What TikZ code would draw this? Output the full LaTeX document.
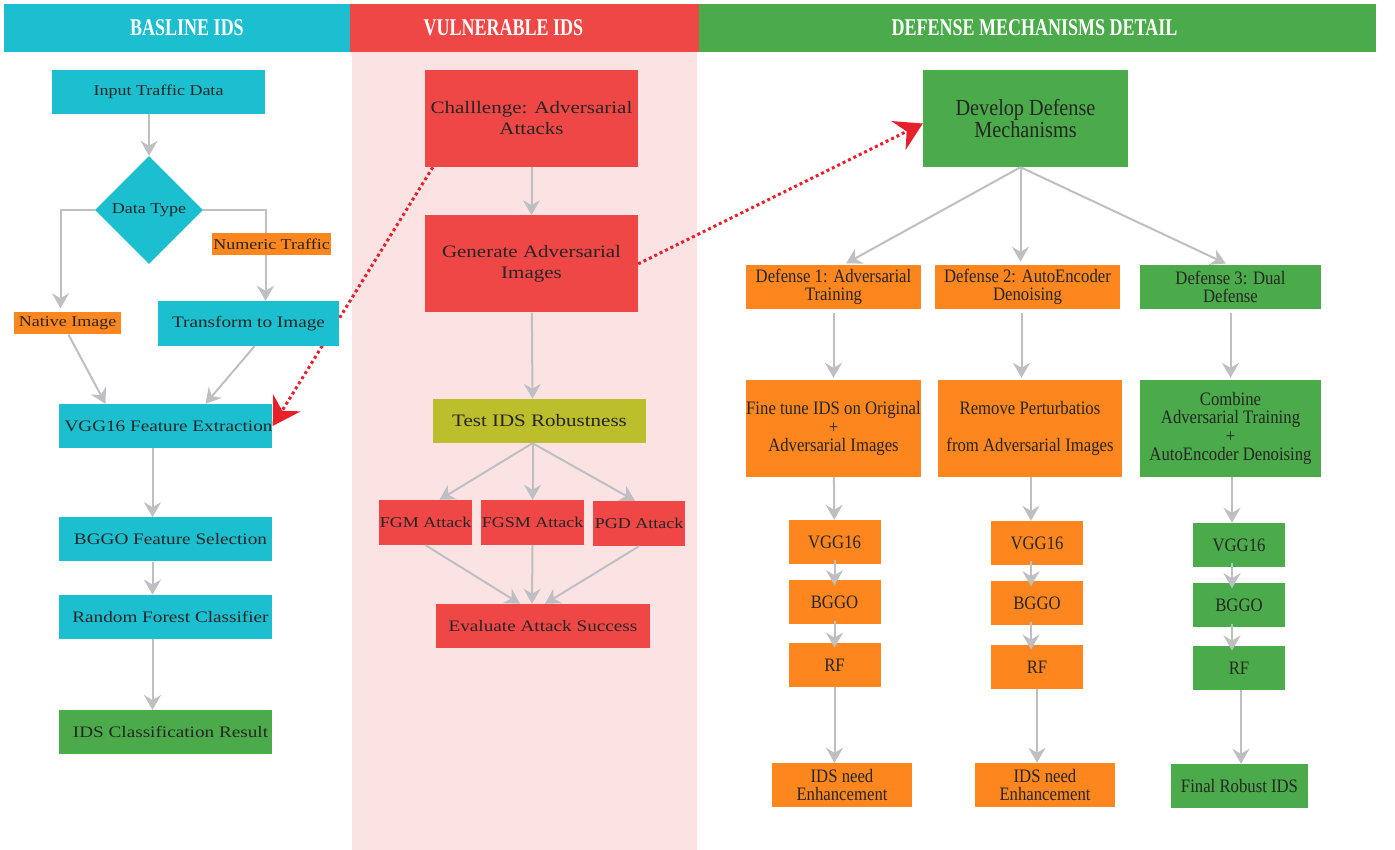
\documentclass[tikz,border=0pt]{standalone}
\usepackage{fontspec}
\setmainfont{Liberation Serif}
\newfontfamily\wideserif[FakeStretch=1.2]{Liberation Serif}
\newfontfamily\narrowserif[FakeStretch=0.88]{Liberation Serif}
\newfontfamily\bandserif[FakeStretch=0.75]{Liberation Serif}
\usetikzlibrary{positioning,shapes.geometric,arrows.meta}

\definecolor{tealfill}{HTML}{1BBFCF}
\definecolor{redfill}{HTML}{EF4646}
\definecolor{greenfill}{HTML}{4BAA4A}
\definecolor{orangefill}{HTML}{FD861F}
\definecolor{olivefill}{HTML}{BDBE2C}
\definecolor{pinkzone}{HTML}{FBE3E3}
\definecolor{flowgray}{HTML}{BEBFC3}
\definecolor{attackred}{HTML}{E8202A}
\definecolor{boxtext}{HTML}{262626}

\pgfdeclarelayer{background}
\pgfsetlayers{background,main}

\begin{document}
\begin{tikzpicture}[x=1pt,y=-1pt]
    \tikzset{box/.style={rectangle, inner sep=0pt, align=center, text=boxtext},
      band/.style={rectangle, inner sep=0pt, minimum height=48pt, text=white,
        font=\bandserif\bfseries\fontsize{24}{28}\selectfont},
      leftbox/.style={box, fill=tealfill, minimum width=213pt, minimum height=44pt,
        font=\wideserif\fontsize{16}{20}\selectfont},
      tagbox/.style={box, fill=orangefill, minimum height=22pt,
        font=\wideserif\fontsize{15}{18}\selectfont},
      midbox/.style={box, fill=redfill, minimum width=213pt, minimum height=44pt,
        font=\wideserif\fontsize{17.5}{21}\selectfont},
      attackbox/.style={box, fill=redfill, minimum height=45pt,
        font=\wideserif\fontsize{15}{18}\selectfont},
      rightbox/.style={box, minimum height=44pt,
        font=\narrowserif\fontsize{19}{18.5}\selectfont},
      stagebox/.style={rightbox, minimum width=92pt},
      flow/.style={draw=flowgray, line width=2pt, -{Stealth[length=15pt, width=17pt, inset=5pt]}},
      attack/.style={draw=attackred, line width=3pt, dash pattern=on 3pt off 3pt,
        -{Stealth[length=27pt, width=32pt, inset=9pt]}}
    }

    \useasboundingbox (0,0) rectangle (1395,850);

    % column headers
    \node[band, fill=tealfill, minimum width=346pt] (bandA) at (177,28) {\hspace*{20pt}BASLINE IDS};
    \node[band, fill=redfill, minimum width=349pt] (bandB) at (524.5,28) {VULNERABLE IDS\hspace*{42pt}};
    \node[band, fill=greenfill, minimum width=677pt] (bandC) at (1037.5,28) {DEFENSE MECHANISMS DETAIL\hspace*{6pt}};

    % baseline IDS
    \node[leftbox, font=\wideserif\fontsize{15}{18}\selectfont] (input) at (158.5,92) {Input Traffic Data};
    \node[diamond, fill=tealfill, inner sep=0pt, minimum width=108pt, minimum height=108pt,
      text=boxtext, font=\wideserif\fontsize{15}{18}\selectfont] (dtype) at (149,210) {Data Type};
    \node[tagbox, minimum width=107pt] (native) at (67.5,323.5) {Native Image};
    \node[leftbox, minimum width=181pt, minimum height=45pt] (transform) at (248.5,323.5) {Transform to Image};
    \node[leftbox] (vgg) at (165.5,426) {\hspace*{6pt}VGG16 Feature Extraction};
    \node[leftbox] (bggo) [below=69pt of vgg] {\hspace*{10pt}BGGO Feature Selection};
    \node[leftbox] (rf) [below=33pt of bggo] {\hspace*{10pt}Random Forest Classifier};
    \node[leftbox, fill=greenfill] (result) [below=71pt of rf] {\hspace*{10pt}IDS Classification Result};

    % vulnerable IDS
    \node[midbox, minimum height=97pt] (challenge) at (531.5,118.5) {Challlenge: Adversarial\\Attacks};
    \node[midbox, minimum height=97pt] (generate) [below=48pt of challenge] {Generate Adversarial\\Images};
    \node[midbox, fill=olivefill] (test) at (539.5,421) {Test IDS Robustness};
    \node[attackbox, minimum width=93pt] (fgm) at (425.5,522.5) {FGM Attack};
    \node[attackbox, minimum width=103pt] (fgsm) at (532.5,522.5) {FGSM Attack};
    \node[attackbox, minimum width=92pt] (pgd) at (639,523.5) {PGD Attack};
    \node[midbox, minimum width=214pt, font=\wideserif\fontsize{16}{20}\selectfont] (evaluate) at (543,626)
      {Evaluate Attack Success};

    % defense mechanisms
    \node[rightbox, fill=greenfill, minimum width=205pt, minimum height=97pt,
      font=\narrowserif\fontsize{23}{22}\selectfont] (develop) at (1025.5,118.5) {Develop Defense\\Mechanisms};
    \node[rightbox, fill=orangefill, minimum width=175pt] (defA) at (833.5,287) {Defense 1: Adversarial\\Training};
    \node[rightbox, fill=orangefill, minimum width=185pt] (defB) at (1027.5,287) {Defense 2: AutoEncoder\\Denoising};
    \node[rightbox, fill=greenfill, minimum width=181pt] (defC) at (1230.5,287) {Defense 3: Dual\\Defense};
    \node[rightbox, fill=orangefill, minimum width=175pt, minimum height=97pt] (finetune) at (833.5,428.5)
      {Fine tune IDS on Original\\+\\Adversarial Images};
    \node[rightbox, fill=orangefill, minimum width=184pt, minimum height=97pt] (remove) at (1030,428.5)
      {Remove Perturbatios\\[18.5pt]from Adversarial Images};
    \node[rightbox, fill=greenfill, minimum width=181pt, minimum height=97pt] (combine) at (1230.5,428.5)
      {Combine\\Adversarial Training\\+\\AutoEncoder Denoising};

    \node[stagebox, fill=orangefill] (vggA) at (834.5,542) {VGG16};
    \node[stagebox, fill=orangefill] (bggoA) [below=16pt of vggA] {BGGO};
    \node[stagebox, fill=orangefill] (rfA) [below=18pt of bggoA] {RF};
    \node[rightbox, fill=orangefill, minimum width=140pt] (needA) at (842,785) {IDS need\\Enhancement};

    \node[stagebox, fill=orangefill] (vggB) at (1037,543) {VGG16};
    \node[stagebox, fill=orangefill] (bggoB) [below=16pt of vggB] {BGGO};
    \node[stagebox, fill=orangefill] (rfB) [below=19pt of bggoB] {RF};
    \node[rightbox, fill=orangefill, minimum width=140pt] (needB) at (1045,785) {IDS need\\Enhancement};

    \node[stagebox, fill=greenfill] (vggC) at (1239,545) {VGG16};
    \node[stagebox, fill=greenfill] (bggoC) [below=16pt of vggC] {BGGO};
    \node[stagebox, fill=greenfill] (rfC) [below=18pt of bggoC] {RF};
    \node[rightbox, fill=greenfill, minimum width=137pt] (final) at (1239.5,786) {Final Robust IDS};

    \begin{pgfonlayer}{background}
      \fill[pinkzone] (352,52) rectangle (697,850);
      \draw[attack] ([xshift=8pt]challenge.south west) -- (vgg.east);
      \draw[attack] (generate.east) -- ([yshift=-5pt]develop.west);
    \end{pgfonlayer}

    \draw[flow] (input.south -| dtype.north) -- (dtype.north);
    \draw[flow, shorten >=4pt] (dtype.west) -| ([xshift=-7pt]native.north);
    \draw[flow] (dtype.east) -| ([xshift=17pt]transform.north);
    \node[tagbox, minimum width=119pt] (numeric) at (271.5,244) {Numeric Traffic};
    \draw[flow] ([xshift=1pt]native.south) -- ([xshift=-60pt]vgg.north);
    \draw[flow] ([xshift=6pt]transform.south) -- ([xshift=40pt]vgg.north);
    \draw[flow] ([xshift=-13pt]vgg.south) -- ([xshift=-13pt]bggo.north);
    \draw[flow] ([xshift=-13pt]bggo.south) -- ([xshift=-13pt]rf.north);
    \draw[flow] ([xshift=-13pt]rf.south) -- ([xshift=-13pt]result.north);

    \draw[flow] (challenge) -- (generate);
    \draw[flow] (generate) -- ([xshift=-7pt]test.north);
    \draw[flow] ([xshift=-7pt]test.south) -- ([xshift=14pt]fgm.north);
    \draw[flow] ([xshift=-7pt]test.south) -- (fgsm.north);
    \draw[flow] ([xshift=-7pt]test.south) -- ([xshift=-4pt]pgd.north);
    \draw[flow] (fgm.south) -- ([xshift=-23pt]evaluate.north);
    \draw[flow] (fgsm.south) -- ([xshift=-11pt]evaluate.north);
    \draw[flow] (pgd.south) -- ([xshift=2pt]evaluate.north);

    \draw[flow, shorten >=3pt] ([xshift=-5pt]develop.south) -- ([xshift=10pt]defA.north);
    \draw[flow, shorten >=3pt] ([xshift=-5pt]develop.south) -- ([xshift=-7pt]defB.north);
    \draw[flow, shorten >=3pt] ([xshift=-5pt]develop.south) -- ([xshift=-2pt]defC.north);
    \draw[flow, shorten <=4pt, shorten >=2pt] (defA) -- (finetune);
    \draw[flow, shorten <=4pt, shorten >=2pt] ([xshift=-6pt]defB.south) -- ([xshift=-6pt]defB.south |- remove.north);
    \draw[flow, shorten <=4pt, shorten >=2pt] (defC) -- (combine);

    \draw[flow] (finetune) -- (vggA);
    \draw[flow] ([yshift=4pt]vggA.south) -- ([yshift=-5pt]bggoA.north);
    \draw[flow] ([yshift=4pt]bggoA.south) -- ([yshift=-5pt]rfA.north);
    \draw[flow] (rfA.south) -- (rfA.south |- needA.north);

    \draw[flow] ([xshift=-6pt]vggB.north |- remove.south) -- ([xshift=-6pt]vggB.north);
    \draw[flow] ([xshift=-6pt,yshift=4pt]vggB.south) -- ([xshift=-6pt,yshift=-5pt]bggoB.north);
    \draw[flow] ([xshift=-6pt,yshift=4pt]bggoB.south) -- ([xshift=-6pt,yshift=-5pt]rfB.north);
    \draw[flow] (rfB.south) -- (rfB.south |- needB.north);

    \draw[flow] ([xshift=-7pt]vggC.north |- combine.south) -- ([xshift=-7pt]vggC.north);
    \draw[flow] ([xshift=-7pt,yshift=4pt]vggC.south) -- ([xshift=-7pt,yshift=-5pt]bggoC.north);
    \draw[flow] ([xshift=-7pt,yshift=4pt]bggoC.south) -- ([xshift=-7pt,yshift=-5pt]rfC.north);
    \draw[flow] ([xshift=2pt]rfC.south) -- ([xshift=2pt]rfC.south |- final.north);
\end{tikzpicture}
\end{document}
